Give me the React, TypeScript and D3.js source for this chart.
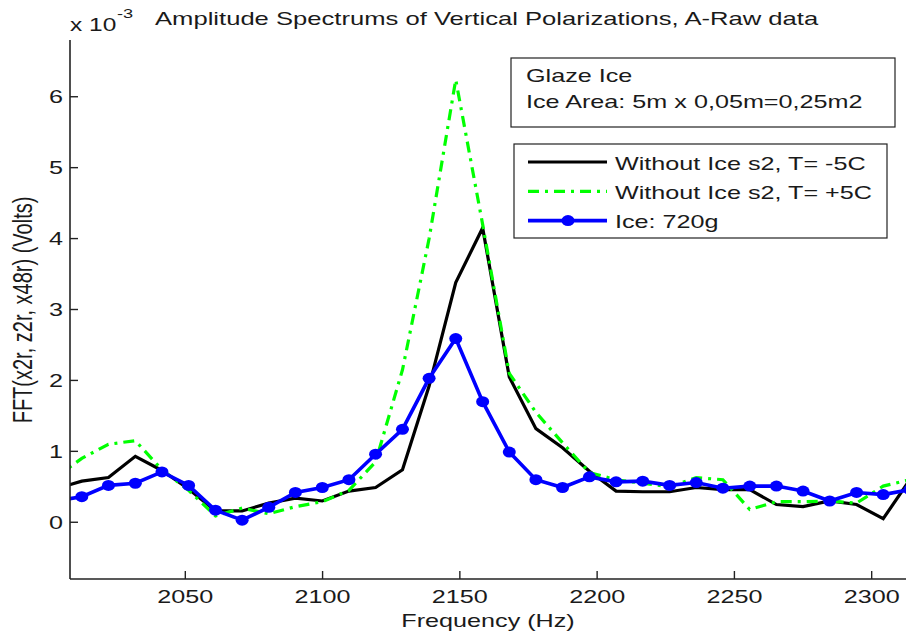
import React from 'react';
import * as d3 from 'd3';

const FREQ = [2002.6, 2012.3, 2022.0, 2031.8, 2041.5, 2051.2, 2061.0, 2070.7, 2080.4, 2090.1, 2099.9, 2109.6, 2119.3, 2129.1, 2138.8, 2148.5, 2158.3, 2168.0, 2177.7, 2187.4, 2197.2, 2206.9, 2216.6, 2226.4, 2236.1, 2245.8, 2255.6, 2265.3, 2275.0, 2284.7, 2294.5, 2304.2, 2313.9];
const BLACK_M5C = [0.47, 0.58, 0.63, 0.93, 0.73, 0.47, 0.16, 0.16, 0.27, 0.34, 0.30, 0.44, 0.49, 0.74, 1.92, 3.38, 4.15, 2.05, 1.32, 1.05, 0.72, 0.44, 0.43, 0.43, 0.49, 0.46, 0.46, 0.25, 0.22, 0.30, 0.25, 0.05, 0.60];
const GREEN_P5C = [0.63, 0.90, 1.10, 1.15, 0.74, 0.45, 0.09, 0.20, 0.12, 0.22, 0.29, 0.45, 0.85, 2.15, 4.0, 6.24, 4.2, 2.1, 1.55, 1.12, 0.70, 0.60, 0.55, 0.50, 0.63, 0.60, 0.18, 0.29, 0.29, 0.30, 0.27, 0.51, 0.60];
const BLUE_ICE = [0.30, 0.36, 0.52, 0.55, 0.71, 0.52, 0.17, 0.03, 0.21, 0.42, 0.49, 0.60, 0.96, 1.31, 2.03, 2.59, 1.70, 0.99, 0.60, 0.49, 0.64, 0.57, 0.58, 0.52, 0.56, 0.48, 0.51, 0.51, 0.44, 0.30, 0.42, 0.39, 0.46];

const X_TICKS = [2050, 2100, 2150, 2200, 2250, 2300];
const Y_TICKS = [0, 1, 2, 3, 4, 5, 6];
const LEGEND_LABELS = ['Without Ice s2, T= -5C', 'Without Ice s2, T= +5C', 'Ice: 720g'];
const TITLE = 'Amplitude Spectrums of Vertical Polarizations, A-Raw data';
const NOTE_LINES = ['Glaze Ice', 'Ice Area: 5m x 0,05m=0,25m2'];

const W = 907;
const H = 639;
const L = 70, R = 906, T = 40, B = 579;
const SX = 1.4;
const FONT = '"Liberation Sans", Arial, Helvetica, sans-serif';
const TXT = '#1a1a1a';

function Txt({ x, y, size = 18, anchor = 'start', children, rot = false }: any) {
  const tr = rot
    ? `translate(${x},${y}) scale(${SX},1) rotate(-90)`
    : `translate(${x},${y}) scale(${SX},1)`;
  return (
    <text transform={tr} fontSize={size} fontFamily={FONT} textAnchor={anchor} fill={TXT}>
      {children}
    </text>
  );
}

export default function App() {
  const x = d3.scaleLinear().domain([2008, 2312.5]).range([L, R]);
  const y = d3.scaleLinear().domain([-0.8, 6.8]).range([B, T]);

  const series = [
    { vals: BLACK_M5C, color: '#000000', width: 3.2, dash: undefined as string | undefined, marker: false },
    { vals: GREEN_P5C, color: '#00ff00', width: 3.2, dash: '11,6,3,6', marker: false },
    { vals: BLUE_ICE, color: '#0000ff', width: 3.6, dash: undefined as string | undefined, marker: true },
  ];

  const line = (vals: number[]) =>
    d3.line<number>().x((_, i) => x(FREQ[i])).y((d) => y(d))(vals) || '';

  return (
    <svg width={W} height={H} style={{ position: 'absolute', left: 0, top: 0, background: '#fff' }}>
      <defs>
        <clipPath id="plotclip">
          <rect x={L} y={T} width={R - L} height={B - T} />
        </clipPath>
      </defs>
      <rect x={0} y={0} width={W} height={H} fill="#fff" />

      <g clipPath="url(#plotclip)">
        {series.map((s, k) => (
          <path key={k} d={line(s.vals)} fill="none" stroke={s.color} strokeWidth={s.width}
            strokeDasharray={s.dash} strokeLinejoin="miter" strokeLinecap="butt" />
        ))}
        {series.filter((s) => s.marker).map((s, k) => (
          <g key={k}>
            {s.vals.map((v, i) => (
              <ellipse key={i} cx={x(FREQ[i])} cy={y(v)} rx={6.5} ry={5.5} fill={s.color} />
            ))}
          </g>
        ))}
      </g>

      {/* axes */}
      <line x1={L} y1={T} x2={L} y2={B} stroke="#222" strokeWidth={1.6} />
      <line x1={L} y1={B} x2={R} y2={B} stroke="#222" strokeWidth={1.4} />
      {Y_TICKS.map((t) => (
        <g key={t}>
          <line x1={L} x2={L + 8} y1={y(t)} y2={y(t)} stroke="#222" strokeWidth={1.4} />
          <Txt x={63} y={y(t) + 6.5} anchor="end">{String(t)}</Txt>
        </g>
      ))}
      {X_TICKS.map((t) => (
        <g key={t}>
          <line x1={x(t)} x2={x(t)} y1={B} y2={B - 8} stroke="#222" strokeWidth={1.4} />
          <Txt x={x(t)} y={603} anchor="middle">{String(t)}</Txt>
        </g>
      ))}

      {/* labels */}
      <Txt x={488} y={627} anchor="middle">Frequency (Hz)</Txt>
      <Txt x={32} y={310} anchor="middle" rot size={20}>FFT(x2r, z2r, x48r) (Volts)</Txt>
      <Txt x={155} y={25} size={18.3}>{TITLE}</Txt>
      <Txt x={70} y={31} size={17.5}>x 10</Txt>
      <Txt x={117} y={18} size={13}>-3</Txt>

      {/* note box */}
      <rect x={511} y={58} width={384} height={69} fill="#fff" stroke="#222" strokeWidth={1.2} />
      <Txt x={526} y={82}>{NOTE_LINES[0]}</Txt>
      <Txt x={526} y={108}>{NOTE_LINES[1]}</Txt>

      {/* legend */}
      <rect x={514} y={144} width={373} height={94} fill="#fff" stroke="#222" strokeWidth={1.2} />
      {series.map((s, k) => {
        const ly = 162 + k * 29.3;
        return (
          <g key={k}>
            <line x1={528} x2={607} y1={ly} y2={ly} stroke={s.color} strokeWidth={s.width}
              strokeDasharray={s.dash} />
            {s.marker && <ellipse cx={568} cy={ly} rx={6.5} ry={5.5} fill={s.color} />}
            <Txt x={615} y={ly + 7.5}>{LEGEND_LABELS[k]}</Txt>
          </g>
        );
      })}
    </svg>
  );
}
